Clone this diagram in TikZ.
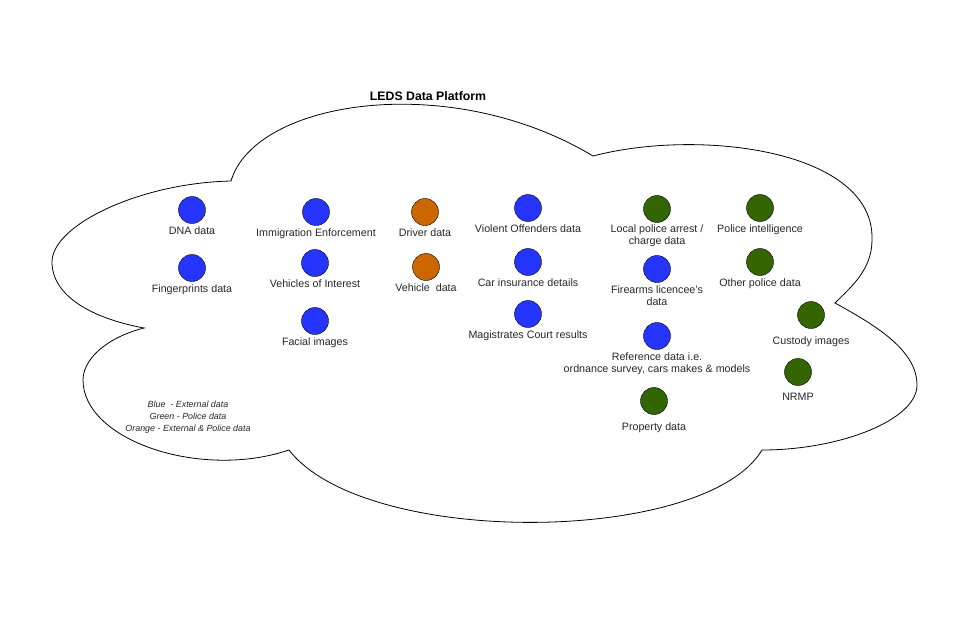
\documentclass[tikz,border=0pt]{standalone}
\usepackage{fontspec}
\setmainfont{Liberation Sans}
\usepackage{xcolor}
\usetikzlibrary{positioning}

\definecolor{extblue}{RGB}{38,52,255}
\definecolor{polgreen}{RGB}{51,102,0}
\definecolor{bothorange}{RGB}{204,102,0}

\tikzset{
	item/.style={circle, draw=black, minimum size=27pt, inner sep=0},
	ext/.style={item, fill=extblue},
	pol/.style={item, fill=polgreen},
	both/.style={item, fill=bothorange},
	lbl/.style={font=\fontsize{10.7}{12}\selectfont, text=black!85, inner sep=0, align=center}
}

\begin{document}
\begin{tikzpicture}[x=1pt, y=-1pt]
\useasboundingbox (0,0) rectangle (960,640);

% cloud
\draw[line width=0.8] (231,181)
	.. controls (255,100) and (450,70) .. (593,156)
	.. controls (700,128) and (875,150) .. (872,240)
	.. controls (872,270) and (850,288) .. (835,303)
	.. controls (875,325) and (917,350) .. (917,385)
	.. controls (917,420) and (840,450) .. (762,450)
	.. controls (705,545) and (365,548) .. (289,450)
	.. controls (200,480) and (83,440) .. (83,380)
	.. controls (83,360) and (105,338) .. (144,328)
	.. controls (90,318) and (52,295) .. (52,262)
	.. controls (52,225) and (140,183) .. cycle;

\node[font=\fontsize{12.3}{14}\selectfont\bfseries] (title) at (428,96) {LEDS Data Platform};

\foreach \n/\x/\y/\c/\g/\t in {
	dna/192/210/ext/2.5/{DNA data},
	prints/192/268/ext/2.5/{Fingerprints data},
	immig/316/212/ext/2.5/{Immigration Enforcement},
	voi/315/263/ext/2.5/{Vehicles of Interest},
	facial/315/321/ext/2.5/{Facial images},
	driver/425/212/both/2.5/{Driver data},
	vehicle/426/267/both/2.5/{Vehicle\ \ data},
	violent/528/208/ext/2.5/{Violent Offenders data},
	carins/528/262/ext/2.5/{Car insurance details},
	magis/528/314/ext/2.5/{Magistrates Court results},
	arrest/657/209/pol/2/{Local police arrest /\\charge data},
	firearms/657/269/ext/2.5/{Firearms licencee's\\data},
	refdata/657/336/ext/2.5/{Reference data i.e.\\ordnance survey, cars makes \& models},
	property/654/401/pol/7.5/{Property data},
	intel/760/208/pol/2.5/{Police intelligence},
	otherpol/760/262/pol/2.5/{Other police data},
	custody/811/315/pol/7.5/{Custody images},
	nrmp/798/372/pol/7.5/{NRMP}}{
	\node[\c] (\n) at (\x,\y) {};
	\node[lbl, below=\g pt of \n] (\n-lbl) {\t};
}

% key
\node[font=\fontsize{8.9}{12}\selectfont\itshape, text=black!85, align=center] (key) at (188,417)
	{Blue\ \ - External data\\Green - Police data\\Orange - External \& Police data};
\end{tikzpicture}
\end{document}
